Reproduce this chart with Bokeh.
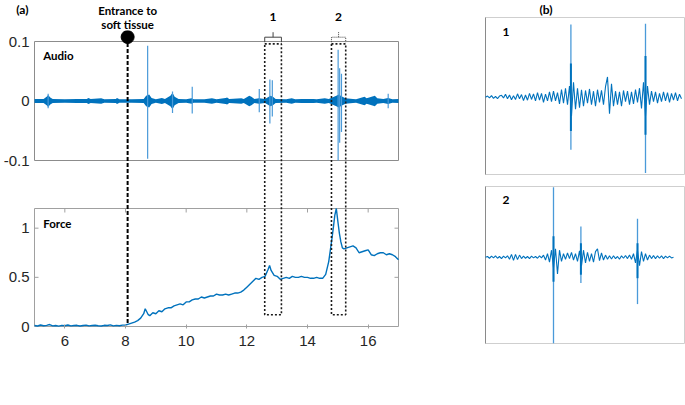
from bokeh.plotting import figure
from bokeh.layouts import row, column
from bokeh.models import Range1d, FixedTicker, CustomJSTickFormatter
from bokeh.core.properties import value
from bokeh.embed import file_html
from bokeh.resources import INLINE

# ---------------- data ----------------
time_ticks = [6, 8, 10, 12, 14, 16]
audio_ticks = [-0.1, 0.0, 0.1]
audio_tick_labels = ["-0.1", "0", "0.1"]
force_ticks = [0.0, 0.5, 1.0]
force_tick_labels = ["0", "0.5", "1"]
time_lim = [5.0, 17.0]
audio_lim = [-0.1, 0.1]
force_lim = [0.0, 1.2]

entry_time = 8.07
entry_force = 0.02
win_start = [12.59, 14.79]
win_end = [13.14, 15.26]
win_labels = ["1", "2"]
win_top_audio = 0.096
win_bottom_force = 0.12

audio_env_t = [5.00, 5.30, 5.40, 5.45, 5.52, 5.60, 6.00, 6.40, 6.72, 6.78, 6.85, 7.20, 7.30,
               7.68, 7.72, 7.80, 8.20, 8.60, 8.68, 8.78, 8.86, 9.00, 9.20, 9.30, 9.48, 9.55,
               9.62, 9.75, 10.00, 10.18, 10.25, 10.60, 10.85, 11.00, 11.30, 11.35, 11.42, 11.82,
               11.90, 12.08, 12.15, 12.25, 12.40, 12.60, 12.78, 12.86, 12.95, 13.30, 13.48, 13.60,
               13.80, 14.20, 14.30, 14.57, 14.70, 14.95, 15.03, 15.12, 15.25, 15.50, 15.60, 15.88,
               15.95, 16.22, 16.30, 16.50, 16.66, 16.80, 17.00]
audio_env_amp = [0.0035, 0.0035, 0.007, 0.010, 0.006, 0.0035, 0.003, 0.0035, 0.0035, 0.005, 0.0035, 0.0045, 0.003,
                 0.0035, 0.005, 0.003, 0.003, 0.0035, 0.009, 0.011, 0.005, 0.003, 0.005, 0.0035, 0.009, 0.014,
                 0.007, 0.0035, 0.003, 0.0045, 0.003, 0.003, 0.0045, 0.003, 0.005, 0.006, 0.0035, 0.0045,
                 0.0035, 0.009, 0.007, 0.0035, 0.0045, 0.0035, 0.009, 0.007, 0.0035, 0.003, 0.0045, 0.003,
                 0.0035, 0.0035, 0.003, 0.0045, 0.0035, 0.009, 0.011, 0.008, 0.0045, 0.0035, 0.003, 0.007,
                 0.0045, 0.009, 0.0045, 0.0035, 0.005, 0.003, 0.0035]
audio_spike_t = [5.45, 8.73, 9.55, 10.20, 12.41, 12.76, 12.84, 15.01, 15.06, 15.12, 16.66]
audio_spike_hi = [0.012, 0.093, 0.016, 0.024, 0.020, 0.036, 0.035, 0.086, 0.055, 0.046, 0.012]
audio_spike_lo = [-0.012, -0.097, -0.020, -0.021, -0.019, -0.038, -0.026, -0.100, -0.070, -0.052, -0.012]

force_t = [5.0, 5.1, 5.2, 5.3, 5.4, 5.5, 5.6, 5.7, 5.8, 5.9, 6.0, 6.1, 6.2, 6.3, 6.4, 6.5, 6.6, 6.7,
           6.8, 6.9, 7.0, 7.1, 7.2, 7.3, 7.4, 7.5, 7.6, 7.7, 7.8, 7.9, 8.0, 8.1, 8.2, 8.3, 8.4, 8.5,
           8.6, 8.65, 8.7, 8.75, 8.8, 8.9, 9.0, 9.1, 9.2, 9.3, 9.4, 9.5, 9.6, 9.7, 9.8, 9.9, 10.0,
           10.1, 10.2, 10.3, 10.4, 10.5, 10.6, 10.7, 10.8, 10.9, 11.0, 11.1, 11.2, 11.3, 11.4, 11.5,
           11.6, 11.7, 11.8, 11.9, 12.0, 12.1, 12.2, 12.3, 12.4, 12.5, 12.6, 12.7, 12.75, 12.8, 12.9,
           13.0, 13.1, 13.2, 13.3, 13.4, 13.5, 13.6, 13.7, 13.8, 13.9, 14.0, 14.1, 14.2, 14.3, 14.4,
           14.5, 14.6, 14.7, 14.8, 14.85, 14.9, 14.95, 15.0, 15.05, 15.1, 15.15, 15.2, 15.3, 15.4,
           15.5, 15.6, 15.7, 15.8, 15.9, 16.0, 16.1, 16.2, 16.3, 16.4, 16.5, 16.6, 16.7, 16.8, 16.9, 17.0]
force_v = [0.010, 0.005, 0.015, 0.008, 0.012, 0.020, 0.006, 0.010, 0.004, 0.012, 0.008, 0.015, 0.006,
           0.010, 0.012, 0.005, 0.010, 0.014, 0.006, 0.010, 0.013, 0.008, 0.005, 0.012, 0.010, 0.016,
           0.006, 0.012, 0.008, 0.014, 0.015, 0.025, 0.035, 0.045, 0.060, 0.085, 0.13, 0.18, 0.15,
           0.12, 0.11, 0.14, 0.13, 0.16, 0.15, 0.18, 0.19, 0.19, 0.21, 0.22, 0.23, 0.22, 0.25, 0.25,
           0.27, 0.28, 0.28, 0.30, 0.29, 0.30, 0.31, 0.31, 0.33, 0.32, 0.32, 0.33, 0.32, 0.33, 0.34,
           0.34, 0.35, 0.37, 0.40, 0.43, 0.46, 0.49, 0.48, 0.50, 0.51, 0.58, 0.62, 0.57, 0.52, 0.51,
           0.48, 0.49, 0.50, 0.49, 0.51, 0.50, 0.50, 0.51, 0.50, 0.50, 0.49, 0.49, 0.50, 0.49, 0.49,
           0.53, 0.66, 0.88, 1.00, 1.13, 1.20, 1.07, 0.95, 0.86, 0.80, 0.79, 0.80, 0.81, 0.82, 0.80,
           0.75, 0.76, 0.77, 0.78, 0.73, 0.72, 0.74, 0.75, 0.75, 0.73, 0.74, 0.73, 0.71, 0.68]

# inset waveforms (sample index -> amplitude, arbitrary units)
inset1_wave = [0.00, 0.015, -0.01, 0.02, -0.015, 0.01, -0.02, 0.015, 0.025, -0.01,
               0.04, -0.02, 0.03, -0.035, 0.02, -0.03, 0.045, -0.02, 0.035, -0.045,
               0.03, -0.04, 0.05, -0.03, 0.045, -0.05, 0.06, -0.04, 0.05, -0.07,
               0.04, -0.05, 0.07, -0.06, 0.08, -0.05, 0.06, -0.09, 0.10, -0.08,
               0.12, -0.10, 0.15, -0.25, 0.20, -0.16, 0.12, -0.14, 0.10, -0.12,
               0.09, -0.08, 0.11, -0.10, 0.08, -0.12, 0.10, -0.07, 0.09, -0.10,
               0.14, 0.27, -0.22, 0.18, -0.12, 0.08, -0.10, 0.07, -0.12, 0.09,
               -0.06, 0.08, -0.10, 0.07, -0.09, 0.10, -0.07, 0.12, -0.15, 0.20,
               -0.25, 0.15, -0.10, 0.08, -0.06, 0.07, -0.08, 0.05, -0.06, 0.07,
               -0.05, 0.06, -0.07, 0.05, -0.04, 0.06, -0.05, 0.04, -0.02]
inset1_spike_idx = [42.7, 80.0]
inset1_spike_hi = [0.97, 0.98]
inset1_spike_lo = [-0.70, -1.01]
inset1_core_hi = [0.45, 0.55]
inset1_core_lo = [-0.45, -0.50]

inset2_wave = [0.00, 0.01, -0.015, 0.015, -0.01, 0.02, -0.015, 0.01, -0.02, 0.015,
               -0.01, 0.02, -0.03, 0.04, -0.045, 0.04, -0.035, 0.03, -0.02, 0.015,
               -0.015, 0.01, -0.02, 0.015, -0.01, 0.01, -0.015, 0.02, -0.01, 0.03,
               -0.04, 0.05, -0.07, 0.10, -0.15, 0.12, -0.24, 0.10, -0.06, 0.05,
               -0.03, 0.06, -0.02, 0.07, -0.04, 0.05, -0.06, 0.09, -0.12, 0.10,
               -0.08, 0.07, -0.06, 0.05, -0.07, 0.08, 0.12, -0.05, 0.06, -0.04,
               0.03, -0.03, 0.02, -0.025, 0.02, -0.02, 0.01, -0.03, 0.02, -0.015,
               0.025, -0.02, 0.03, -0.03, 0.05, -0.08, 0.10, -0.12, 0.08, -0.06,
               0.05, -0.04, 0.03, -0.02, 0.025, -0.02, 0.02, -0.015, 0.02, -0.02,
               0.015, -0.01, 0.015, -0.01, 0.00]
inset2_spike_idx = [34.0, 47.7, 76.0]
inset2_spike_hi = [1.00, 0.44, 0.55]
inset2_spike_lo = [-1.23, -0.37, -0.67]
inset2_core_hi = [0.30, 0.20, 0.20]
inset2_core_lo = [-0.35, -0.25, -0.30]

panel_labels = ["(a)", "(b)"]

# ---------------- styling / layout (page pixels) ----------------
BLUE = "#0072BD"
LIGHT_BLUE = "#4a9ad9"
TICK_FONT = "Liberation Sans"
NOTE_FONT = "Lato"
PAGE = 0

A_BORDER_L, A_PAD, A_BORDER_R = 31, 2, 2
A_BOX_W = 364
A_FRAME_W = A_BOX_W + 2 * A_PAD
A_W = A_BORDER_L + A_FRAME_W + A_BORDER_R
BOX_L = PAGE + A_BORDER_L + A_PAD
HEAD_H = 30
MAIN_TOP = PAGE + HEAD_H
AUDIO_TOP, AUDIO_BOT = 41, 160
FORCE_TOP, FORCE_BOT = 208, 326
MAIN_BOT = FORCE_BOT + A_PAD
MAIN_H = MAIN_BOT - MAIN_TOP

ppx = A_BOX_W / (time_lim[1] - time_lim[0])
ppf = (FORCE_BOT - FORCE_TOP) / (force_lim[1] - force_lim[0])
ppa = (AUDIO_BOT - AUDIO_TOP) / (audio_lim[1] - audio_lim[0])
AUDIO_ZERO = AUDIO_BOT - (0 - audio_lim[0]) * ppa

f_start = force_lim[0] - (MAIN_BOT - FORCE_BOT) / ppf
f_end = force_lim[1] + (FORCE_TOP - MAIN_TOP) / ppf
a_start = audio_lim[0] - (MAIN_BOT - AUDIO_BOT) / ppa
a_end = audio_lim[1] + (AUDIO_TOP - MAIN_TOP) / ppa


def ymain(py):
    return f_end - (py - MAIN_TOP) / ppf


def a2f(a):
    return ymain(AUDIO_ZERO - a * ppa)


def xa(px):
    return time_lim[0] + (px - BOX_L) / ppx


x_range_a = Range1d(time_lim[0] - A_PAD / ppx, time_lim[1] + A_PAD / ppx)

# ---------------- header of panel (a): same frame geometry as the main panel ----------------
head = figure(frame_width=A_FRAME_W, frame_height=HEAD_H, min_border_left=A_BORDER_L,
              min_border_right=A_BORDER_R, min_border_top=0, min_border_bottom=0,
              x_range=x_range_a, y_range=Range1d(0, HEAD_H),
              x_axis_location=None, y_axis_location="left", toolbar_location=None,
              output_backend="svg", outline_line_color=None)
head.grid.visible = False


def hy(py):
    return MAIN_TOP - py


# panel tag "(a)" sits in the left margin -> the single tick label of the header's left axis
tag_y = hy(8.5)
head.yaxis.ticker = FixedTicker(ticks=[tag_y])
head.yaxis.major_label_overrides = {tag_y: panel_labels[0]}
head.yaxis.axis_line_color = None
head.yaxis.major_tick_line_color = None
head.yaxis.minor_tick_line_color = None
head.yaxis.major_tick_out = 0
head.yaxis.major_tick_in = 0
head.yaxis.major_label_text_font = NOTE_FONT
head.yaxis.major_label_text_font_style = "bold"
head.yaxis.major_label_text_font_size = "12px"
head.yaxis.major_label_text_color = "black"
head.yaxis.major_label_standoff = 4

head.text(x=[entry_time, entry_time], y=[hy(10), hy(24)], text=["Entrance to", "soft tissue"],
          text_font=value(NOTE_FONT), text_font_style="bold", text_font_size="11.5px",
          text_align="center", text_baseline="middle", text_color="black")
head.text(x=[(s + e) / 2 for s, e in zip(win_start, win_end)], y=[hy(16)] * 2, text=win_labels,
          text_font=value(NOTE_FONT), text_font_style="bold", text_font_size="12px",
          text_align="center", text_baseline="middle", text_color="black")

# ---------------- main panel (a) ----------------
pa = figure(frame_width=A_FRAME_W, frame_height=MAIN_H, min_border_left=A_BORDER_L,
            min_border_right=A_BORDER_R, min_border_top=0, min_border_bottom=30,
            x_range=x_range_a, y_range=Range1d(f_start, f_end), toolbar_location=None,
            output_backend="svg", outline_line_color=None)
pa.extra_y_ranges = {"audio": Range1d(a_start, a_end)}
pa.grid.visible = False

# x axis (force panel bottom)
pa.xaxis.ticker = FixedTicker(ticks=time_ticks)
pa.xaxis.axis_line_color = None
pa.xaxis.major_tick_in = 4
pa.xaxis.major_tick_out = 0
pa.xaxis.minor_tick_line_color = None
pa.xaxis.major_tick_line_color = "#a0a0a0"
pa.xaxis.major_label_text_font = TICK_FONT
pa.xaxis.major_label_text_font_size = "15px"
pa.xaxis.major_label_text_color = "#262626"
pa.xaxis.major_label_standoff = 7

# y axis shows both sub-panels' ticks
left_ticks = force_ticks + [a2f(a) for a in audio_ticks]
left_labels = force_tick_labels + audio_tick_labels
pa.yaxis.ticker = FixedTicker(ticks=left_ticks)
pa.yaxis.formatter = CustomJSTickFormatter(args=dict(tpos=left_ticks, tlab=left_labels), code="""
let best = 0, d = Infinity;
for (let i = 0; i < tpos.length; i++) { const e = Math.abs(tick - tpos[i]); if (e < d) { d = e; best = i; } }
return tlab[best];
""")
pa.yaxis.axis_line_color = None
pa.yaxis.major_tick_line_color = None
pa.yaxis.minor_tick_line_color = None
pa.yaxis.major_tick_out = 0
pa.yaxis.major_tick_in = 0
pa.yaxis.major_label_text_font = TICK_FONT
pa.yaxis.major_label_text_font_size = "15px"
pa.yaxis.major_label_text_color = "#262626"
pa.yaxis.major_label_standoff = 3

# sub-panel boxes
pa.quad(left=[time_lim[0]], right=[time_lim[1]], bottom=[audio_lim[0]], top=[audio_lim[1]],
        y_range_name="audio", fill_color=None, line_color="#8c8c8c", line_width=1)
pa.quad(left=[time_lim[0]], right=[time_lim[1]], bottom=[force_lim[0]], top=[force_lim[1]],
        fill_color=None, line_color="#a0a0a0", line_width=1)
# inner ticks of force panel (left, right, top)
tl = 4
pa.segment(x0=[time_lim[0]] * 2, y0=force_ticks[1:], x1=[time_lim[0] + tl / ppx] * 2, y1=force_ticks[1:],
           line_color="#a0a0a0")
pa.segment(x0=[time_lim[1]] * 2, y0=force_ticks[1:], x1=[time_lim[1] - tl / ppx] * 2, y1=force_ticks[1:],
           line_color="#a0a0a0")
pa.segment(x0=time_ticks, y0=[force_lim[1]] * len(time_ticks), x1=time_ticks,
           y1=[force_lim[1] - tl / ppf] * len(time_ticks), line_color="#a0a0a0")

# audio trace
pa.varea(x=audio_env_t, y1=[-a for a in audio_env_amp], y2=audio_env_amp, y_range_name="audio",
         fill_color=BLUE)
pa.segment(x0=audio_spike_t, y0=audio_spike_lo, x1=audio_spike_t, y1=audio_spike_hi,
           y_range_name="audio", line_color=LIGHT_BLUE, line_width=1.2)
# force trace
pa.line(x=force_t, y=force_v, line_color=BLUE, line_width=1.4)

# labels
pa.text(x=[xa(41.7), xa(41.7)], y=[ymain(54.5), ymain(223)], text=["Audio", "Force"],
        text_font=value(NOTE_FONT), text_font_style="bold", text_font_size="11.5px",
        text_align="left", text_baseline="middle", text_color="black")

# entrance marker
pa.segment(x0=[entry_time], y0=[ymain(36.5)], x1=[entry_time], y1=[entry_force],
           line_color="black", line_width=2, line_dash="4 2")
pa.scatter(x=[entry_time], y=[ymain(36.5)], size=13, marker="circle", fill_color="black",
           line_color="black")

# zoom windows
pa.quad(left=win_start, right=win_end, bottom=[win_bottom_force] * 2, top=[a2f(win_top_audio)] * 2,
        fill_color=None, line_color="#1a1a1a", line_width=1.6, line_dash="2 2")
# brackets above windows
for i, dash in enumerate(["solid", "1 1"]):
    s, e = win_start[i], win_end[i]
    c = (s + e) / 2
    pa.multi_line(xs=[[s, s, e, e], [c, c]],
                  ys=[[ymain(41.7), ymain(36.7), ymain(36.7), ymain(41.7)], [ymain(36.7), ymain(31.7)]],
                  line_color="#444444", line_width=1, line_dash=dash)

panel_a = column(head, pa, spacing=0)

# ---------------- panel (b) ----------------
B_PAD = 1
B_BOX_L = 484
B_BOX_W = 199
B_BORDER_L = B_BOX_L - B_PAD - (PAGE + A_W)
B_FRAME_W = B_BOX_W + 2 * B_PAD
B_TOP, B_BOT = PAGE, 344
B_H = B_BOT - B_TOP
box1_top, box1_bot = 17, 174
box2_top, box2_bot = 186, 343
b1_base, b1_ppu = 96.7, 75.0
b2_base, b2_ppu = 256.7, 70.0
SAMPLE_PX = 2.0

pb = figure(frame_width=B_FRAME_W, frame_height=B_H, min_border_left=B_BORDER_L, min_border_right=0,
            min_border_top=0, min_border_bottom=0,
            x_range=Range1d(-B_PAD / B_BOX_W, 1 + B_PAD / B_BOX_W), y_range=Range1d(0, B_H),
            x_axis_location=None, y_axis_location=None, toolbar_location=None,
            output_backend="svg", outline_line_color=None)
pb.grid.visible = False
pb.extra_x_ranges = {"bx": Range1d(-B_PAD / SAMPLE_PX, (B_FRAME_W - B_PAD) / SAMPLE_PX)}
pb.extra_y_ranges = {
    "b1": Range1d((b1_base - B_BOT) / b1_ppu, (b1_base - B_TOP) / b1_ppu),
    "b2": Range1d((b2_base - B_BOT) / b2_ppu, (b2_base - B_TOP) / b2_ppu),
}


def by(py):
    return B_BOT - py


def bxf(px):
    return (px - B_BOX_L) / B_BOX_W


pb.quad(left=[0, 0], right=[1, 1], bottom=[by(box1_bot), by(box2_bot)], top=[by(box1_top), by(box2_top)],
        fill_color=None, line_color="#cfcfcf", line_width=1)
pb.segment(x0=[0, 0], y0=[by(box1_bot), by(box2_bot)], x1=[0, 0], y1=[by(box1_top), by(box2_top)],
           line_color="#8a8a8a", line_width=1)

pb.line(x=list(range(len(inset1_wave))), y=inset1_wave, x_range_name="bx", y_range_name="b1",
        line_color=BLUE, line_width=1.1)
pb.segment(x0=inset1_spike_idx, y0=inset1_spike_lo, x1=inset1_spike_idx, y1=inset1_spike_hi,
           x_range_name="bx", y_range_name="b1", line_color=LIGHT_BLUE, line_width=1.3)
pb.segment(x0=inset1_spike_idx, y0=inset1_core_lo, x1=inset1_spike_idx, y1=inset1_core_hi,
           x_range_name="bx", y_range_name="b1", line_color=BLUE, line_width=2)

pb.line(x=list(range(len(inset2_wave))), y=inset2_wave, x_range_name="bx", y_range_name="b2",
        line_color=BLUE, line_width=1.1)
pb.segment(x0=inset2_spike_idx, y0=inset2_spike_lo, x1=inset2_spike_idx, y1=inset2_spike_hi,
           x_range_name="bx", y_range_name="b2", line_color=LIGHT_BLUE, line_width=1.3)
pb.segment(x0=inset2_spike_idx, y0=inset2_core_lo, x1=inset2_spike_idx, y1=inset2_core_hi,
           x_range_name="bx", y_range_name="b2", line_color=BLUE, line_width=2)

pb.text(x=[bxf(538)], y=[by(8.5)], text=[panel_labels[1]], text_font=value(NOTE_FONT), text_font_style="bold",
        text_font_size="12px", text_align="left", text_baseline="middle", text_color="black")
pb.text(x=[bxf(504.5), bxf(504.5)], y=[by(31.7), by(199)], text=win_labels, text_font=value(NOTE_FONT),
        text_font_style="bold", text_font_size="12px", text_align="center", text_baseline="middle",
        text_color="black")

layout = row(panel_a, pb, spacing=0)
open("out.html", "w").write(file_html(layout, INLINE))
